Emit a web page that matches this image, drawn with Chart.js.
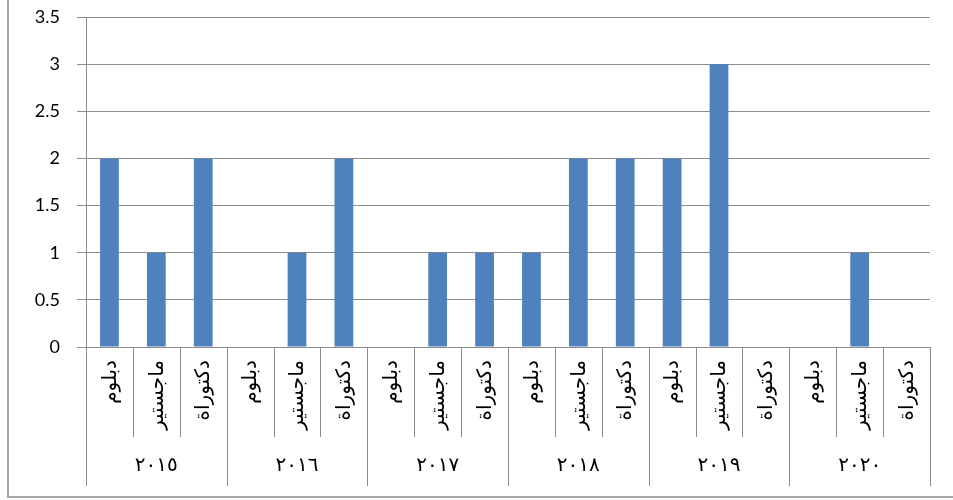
<!DOCTYPE html>
<html>
<head>
<meta charset="utf-8">
<script src="https://cdn.jsdelivr.net/npm/chart.js@4"></script>
<style>
  html, body { margin: 0; padding: 0; background: #fff; }
  #wrap { position: relative; width: 953px; height: 500px; }
</style>
</head>
<body>
<div id="wrap"><canvas id="c" width="953" height="500"></canvas></div>
<script>
// Excel-style column chart with a two-level category axis (degree / year)
const years = ["٢٠١٥", "٢٠١٦", "٢٠١٧", "٢٠١٨", "٢٠١٩", "٢٠٢٠"];
const degrees = ["دبلوم", "ماجستير", "دكتوراة"];
const values = [2, 1, 2,  0, 1, 2,  0, 1, 1,  1, 2, 2,  2, 3, 0,  0, 1, 0];
const yTicks = [0, 0.5, 1, 1.5, 2, 2.5, 3, 3.5];

const labels = [];
years.forEach((y) => degrees.forEach((d) => labels.push(d)));

const GRID = "#8c8c8c";
const ARABIC = "'DejaVu Sans', sans-serif";

// Draws the outer frame and the two label rows under the x axis
const multiLevel = {
  id: "multiLevel",
  afterDraw(chart) {
    const { ctx, scales: { x, y } } = chart;
    const n = labels.length;
    const step = (x.getPixelForValue(n - 1) - x.getPixelForValue(0)) / (n - 1);
    const top = y.getPixelForValue(0);
    const subBottom = 437, yearBottom = 486;
    ctx.save();
    ctx.strokeStyle = GRID;
    ctx.lineWidth = 1;
    for (let i = 0; i <= n; i++) {
      const bx = Math.round(x.getPixelForValue(0) - step / 2 + i * step) + 0.5;
      ctx.beginPath();
      ctx.moveTo(bx, top);
      ctx.lineTo(bx, i % 3 === 0 ? yearBottom : subBottom);
      ctx.stroke();
    }
    ctx.fillStyle = "#000";
    ctx.font = "20px " + ARABIC;
    ctx.direction = "rtl";
    labels.forEach((lab, i) => {
      const cx = x.getPixelForValue(i);
      ctx.save();
      ctx.translate(cx + 1, 360);
      ctx.rotate(-Math.PI / 2);
      ctx.textAlign = "right";
      ctx.textBaseline = "middle";
      ctx.fillText(lab, 0, 0);
      ctx.restore();
    });
    ctx.font = "20px " + ARABIC;
    ctx.textAlign = "center";
    ctx.textBaseline = "middle";
    years.forEach((yr, g) => {
      const cx = (x.getPixelForValue(g * 3) + x.getPixelForValue(g * 3 + 2)) / 2;
      ctx.fillText(yr, cx, 466);
    });
    // outer chart frame
    ctx.strokeStyle = "#a6a6a6";
    ctx.lineWidth = 2;
    ctx.beginPath();
    ctx.moveTo(8, 0);
    ctx.lineTo(8, 497);
    ctx.lineTo(953, 497);
    ctx.stroke();
    ctx.restore();
  }
};

new Chart(document.getElementById("c"), {
  type: "bar",
  data: {
    labels,
    datasets: [{ data: values, backgroundColor: "#4f81bd", barPercentage: 0.4, categoryPercentage: 1 }]
  },
  options: {
    responsive: false,
    animation: false,
    layout: { padding: { left: 0, right: 23, top: 17, bottom: 153 } },
    plugins: { legend: { display: false }, tooltip: { enabled: false } },
    scales: {
      x: { display: false, offset: true },
      y: {
        min: 0, max: 3.5,
        afterBuildTicks: (s) => { s.ticks = yTicks.map((v) => ({ value: v })); },
        afterFit: (s) => { s.width = 86; s.paddingTop = 0; s.paddingBottom = 0; },
        border: { color: GRID, width: 1 },
        grid: { color: GRID, tickLength: 9, drawTicks: true },
        ticks: {
          color: "#000", padding: 17,
          font: { family: "Lato, 'Open Sans', sans-serif", size: 18 },
          callback: (v) => String(v)
        }
      }
    }
  },
  plugins: [multiLevel]
});
</script>
</body>
</html>
